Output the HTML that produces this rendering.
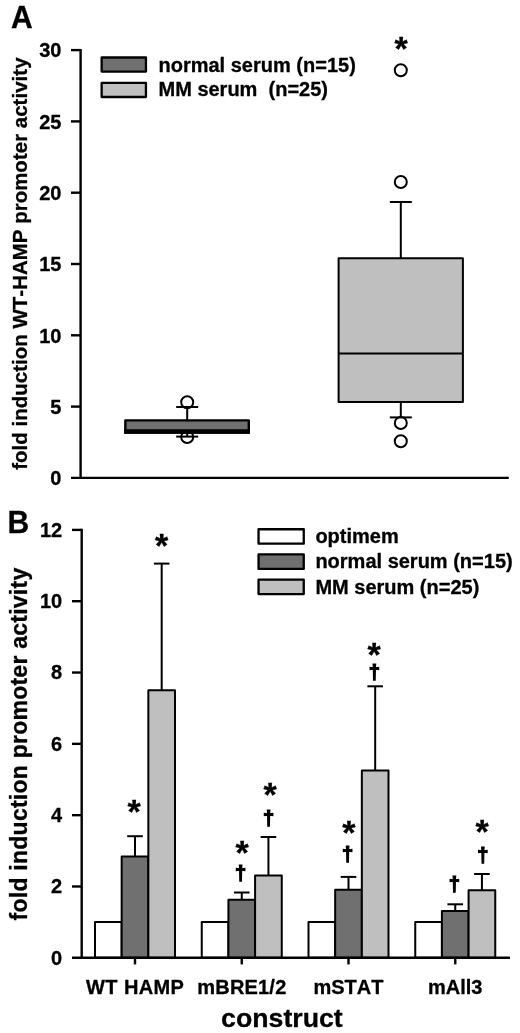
<!DOCTYPE html>
<html><head><meta charset="utf-8"><title>Figure</title>
<style>
html,body{margin:0;padding:0;background:#fff;}
svg{display:block;}
svg text{font-family:'Liberation Sans', sans-serif;font-weight:bold;fill:#000;font-kerning:none;stroke:#000;stroke-width:0.3px;}
</style></head><body>
<svg width="520" height="1033" viewBox="0 0 520 1033">
<rect x="0" y="0" width="520" height="1033" fill="#fff"/>
<text transform="translate(11.0,27.7) scale(1,1.066)" font-size="30">A</text>
<text transform="translate(27.3,469.8) rotate(-90)" font-size="20.4" textLength="412.3" lengthAdjust="spacing">fold induction WT-HAMP promoter activity</text>
<circle cx="187.20" cy="402.20" r="6" fill="#fff" stroke="#000" stroke-width="2.0"/>
<circle cx="187.20" cy="437.00" r="6" fill="#fff" stroke="#000" stroke-width="2.0"/>
<circle cx="400.80" cy="70.30" r="6" fill="#fff" stroke="#000" stroke-width="2.0"/>
<circle cx="400.80" cy="182.00" r="6" fill="#fff" stroke="#000" stroke-width="2.0"/>
<circle cx="400.80" cy="423.00" r="6" fill="#fff" stroke="#000" stroke-width="2.0"/>
<circle cx="400.80" cy="441.20" r="6" fill="#fff" stroke="#000" stroke-width="2.0"/>
<line x1="187.20" y1="420.00" x2="187.20" y2="407.00" stroke="#000" stroke-width="2.0" stroke-linecap="butt"/>
<line x1="176.20" y1="407.00" x2="198.20" y2="407.00" stroke="#000" stroke-width="2.0" stroke-linecap="butt"/>
<line x1="187.20" y1="433.00" x2="187.20" y2="436.60" stroke="#000" stroke-width="2.0" stroke-linecap="butt"/>
<line x1="176.20" y1="436.60" x2="198.20" y2="436.60" stroke="#000" stroke-width="2.0" stroke-linecap="butt"/>
<line x1="400.80" y1="258.20" x2="400.80" y2="202.00" stroke="#000" stroke-width="2.0" stroke-linecap="butt"/>
<line x1="389.80" y1="202.00" x2="411.80" y2="202.00" stroke="#000" stroke-width="2.0" stroke-linecap="butt"/>
<line x1="400.80" y1="402.00" x2="400.80" y2="417.40" stroke="#000" stroke-width="2.0" stroke-linecap="butt"/>
<line x1="389.80" y1="417.40" x2="411.80" y2="417.40" stroke="#000" stroke-width="2.0" stroke-linecap="butt"/>
<rect x="125.35" y="420.40" width="123.45" height="12.25" fill="#707070" stroke="#000" stroke-width="2.4" stroke-linejoin="round"/>
<line x1="124.15" y1="431.50" x2="250.00" y2="431.50" stroke="#000" stroke-width="4.6" stroke-linecap="butt"/>
<rect x="338.60" y="258.20" width="124.30" height="143.80" fill="#bfbfbf" stroke="#000" stroke-width="2.0" stroke-linejoin="round"/>
<line x1="338.60" y1="353.50" x2="462.90" y2="353.50" stroke="#000" stroke-width="2.0" stroke-linecap="butt"/>
<line x1="80.60" y1="48.90" x2="80.60" y2="479.10" stroke="#000" stroke-width="2.4" stroke-linecap="butt"/>
<line x1="71.00" y1="477.90" x2="508.80" y2="477.90" stroke="#000" stroke-width="2.4" stroke-linecap="butt"/>
<text transform="translate(61.4,485.20) scale(1,1.04)" font-size="20" text-anchor="end">0</text>
<line x1="71.00" y1="406.60" x2="80.60" y2="406.60" stroke="#000" stroke-width="2.4" stroke-linecap="butt"/>
<text transform="translate(61.4,413.90) scale(1,1.04)" font-size="20" text-anchor="end">5</text>
<line x1="71.00" y1="335.30" x2="80.60" y2="335.30" stroke="#000" stroke-width="2.4" stroke-linecap="butt"/>
<text transform="translate(61.4,342.60) scale(1,1.04)" font-size="20" text-anchor="end">10</text>
<line x1="71.00" y1="264.00" x2="80.60" y2="264.00" stroke="#000" stroke-width="2.4" stroke-linecap="butt"/>
<text transform="translate(61.4,271.30) scale(1,1.04)" font-size="20" text-anchor="end">15</text>
<line x1="71.00" y1="192.70" x2="80.60" y2="192.70" stroke="#000" stroke-width="2.4" stroke-linecap="butt"/>
<text transform="translate(61.4,200.00) scale(1,1.04)" font-size="20" text-anchor="end">20</text>
<line x1="71.00" y1="121.40" x2="80.60" y2="121.40" stroke="#000" stroke-width="2.4" stroke-linecap="butt"/>
<text transform="translate(61.4,128.70) scale(1,1.04)" font-size="20" text-anchor="end">25</text>
<line x1="71.00" y1="50.10" x2="80.60" y2="50.10" stroke="#000" stroke-width="2.4" stroke-linecap="butt"/>
<text transform="translate(61.4,57.40) scale(1,1.04)" font-size="20" text-anchor="end">30</text>
<rect x="101.65" y="57.50" width="44.30" height="14.10" fill="#707070" stroke="#000" stroke-width="2.3" stroke-linejoin="round"/>
<rect x="101.65" y="82.90" width="44.30" height="14.10" fill="#bfbfbf" stroke="#000" stroke-width="2.3" stroke-linejoin="round"/>
<text x="158.50" y="71.80" font-size="20" text-anchor="start" >normal serum (n=15)</text>
<text x="158.50" y="96.20" font-size="20" text-anchor="start" >MM serum&#160; (n=25)</text>
<text x="401.10" y="60.17" font-size="34" text-anchor="middle" >*</text>
<text transform="translate(7.5,533.1) scale(1,1.066)" font-size="30">B</text>
<text transform="translate(27.4,920.4) rotate(-90)" font-size="23" textLength="352.6" lengthAdjust="spacing">fold induction promoter activity</text>
<line x1="135.00" y1="856.40" x2="135.00" y2="836.20" stroke="#000" stroke-width="2.0" stroke-linecap="butt"/>
<line x1="127.20" y1="836.20" x2="142.81" y2="836.20" stroke="#000" stroke-width="2.0" stroke-linecap="butt"/>
<line x1="161.68" y1="690.20" x2="161.68" y2="563.60" stroke="#000" stroke-width="2.0" stroke-linecap="butt"/>
<line x1="153.88" y1="563.60" x2="169.48" y2="563.60" stroke="#000" stroke-width="2.0" stroke-linecap="butt"/>
<rect x="95.00" y="921.90" width="26.67" height="35.90" fill="#ffffff" stroke="#000" stroke-width="2.0" stroke-linejoin="round"/>
<rect x="121.67" y="856.40" width="26.67" height="101.40" fill="#707070" stroke="#000" stroke-width="2.0" stroke-linejoin="round"/>
<rect x="148.34" y="690.20" width="26.67" height="267.60" fill="#bfbfbf" stroke="#000" stroke-width="2.0" stroke-linejoin="round"/>
<line x1="135.00" y1="957.80" x2="135.00" y2="964.40" stroke="#000" stroke-width="2.4" stroke-linecap="butt"/>
<line x1="241.75" y1="899.80" x2="241.75" y2="892.50" stroke="#000" stroke-width="2.0" stroke-linecap="butt"/>
<line x1="233.95" y1="892.50" x2="249.56" y2="892.50" stroke="#000" stroke-width="2.0" stroke-linecap="butt"/>
<line x1="268.43" y1="875.40" x2="268.43" y2="837.00" stroke="#000" stroke-width="2.0" stroke-linecap="butt"/>
<line x1="260.62" y1="837.00" x2="276.23" y2="837.00" stroke="#000" stroke-width="2.0" stroke-linecap="butt"/>
<rect x="201.75" y="921.90" width="26.67" height="35.90" fill="#ffffff" stroke="#000" stroke-width="2.0" stroke-linejoin="round"/>
<rect x="228.42" y="899.80" width="26.67" height="58.00" fill="#707070" stroke="#000" stroke-width="2.0" stroke-linejoin="round"/>
<rect x="255.09" y="875.40" width="26.67" height="82.40" fill="#bfbfbf" stroke="#000" stroke-width="2.0" stroke-linejoin="round"/>
<line x1="241.75" y1="957.80" x2="241.75" y2="964.40" stroke="#000" stroke-width="2.4" stroke-linecap="butt"/>
<line x1="348.50" y1="889.80" x2="348.50" y2="876.90" stroke="#000" stroke-width="2.0" stroke-linecap="butt"/>
<line x1="340.70" y1="876.90" x2="356.31" y2="876.90" stroke="#000" stroke-width="2.0" stroke-linecap="butt"/>
<line x1="375.18" y1="770.40" x2="375.18" y2="686.30" stroke="#000" stroke-width="2.0" stroke-linecap="butt"/>
<line x1="367.38" y1="686.30" x2="382.98" y2="686.30" stroke="#000" stroke-width="2.0" stroke-linecap="butt"/>
<rect x="308.50" y="921.90" width="26.67" height="35.90" fill="#ffffff" stroke="#000" stroke-width="2.0" stroke-linejoin="round"/>
<rect x="335.17" y="889.80" width="26.67" height="68.00" fill="#707070" stroke="#000" stroke-width="2.0" stroke-linejoin="round"/>
<rect x="361.84" y="770.40" width="26.67" height="187.40" fill="#bfbfbf" stroke="#000" stroke-width="2.0" stroke-linejoin="round"/>
<line x1="348.50" y1="957.80" x2="348.50" y2="964.40" stroke="#000" stroke-width="2.4" stroke-linecap="butt"/>
<line x1="455.25" y1="911.10" x2="455.25" y2="904.30" stroke="#000" stroke-width="2.0" stroke-linecap="butt"/>
<line x1="447.45" y1="904.30" x2="463.06" y2="904.30" stroke="#000" stroke-width="2.0" stroke-linecap="butt"/>
<line x1="481.93" y1="890.30" x2="481.93" y2="874.00" stroke="#000" stroke-width="2.0" stroke-linecap="butt"/>
<line x1="474.12" y1="874.00" x2="489.73" y2="874.00" stroke="#000" stroke-width="2.0" stroke-linecap="butt"/>
<rect x="415.25" y="921.90" width="26.67" height="35.90" fill="#ffffff" stroke="#000" stroke-width="2.0" stroke-linejoin="round"/>
<rect x="441.92" y="911.10" width="26.67" height="46.70" fill="#707070" stroke="#000" stroke-width="2.0" stroke-linejoin="round"/>
<rect x="468.59" y="890.30" width="26.67" height="67.50" fill="#bfbfbf" stroke="#000" stroke-width="2.0" stroke-linejoin="round"/>
<line x1="455.25" y1="957.80" x2="455.25" y2="964.40" stroke="#000" stroke-width="2.4" stroke-linecap="butt"/>
<text x="135.00" y="994.30" font-size="20" text-anchor="middle" textLength="97.8" lengthAdjust="spacing">WT HAMP</text>
<text x="241.75" y="994.30" font-size="20" text-anchor="middle" textLength="89.0" lengthAdjust="spacing">mBRE1/2</text>
<text x="348.50" y="994.30" font-size="20" text-anchor="middle" >mSTAT</text>
<text x="455.25" y="994.30" font-size="20" text-anchor="middle" >mAll3</text>
<text x="281.90" y="1027.30" font-size="26.7" text-anchor="middle" >construct</text>
<line x1="81.70" y1="528.70" x2="81.70" y2="959.00" stroke="#000" stroke-width="2.4" stroke-linecap="butt"/>
<line x1="72.00" y1="957.80" x2="510.00" y2="957.80" stroke="#000" stroke-width="2.4" stroke-linecap="butt"/>
<text transform="translate(62.2,964.60) scale(1,1.04)" font-size="20" text-anchor="end">0</text>
<line x1="72.00" y1="886.48" x2="81.70" y2="886.48" stroke="#000" stroke-width="2.4" stroke-linecap="butt"/>
<text transform="translate(62.2,893.28) scale(1,1.04)" font-size="20" text-anchor="end">2</text>
<line x1="72.00" y1="815.17" x2="81.70" y2="815.17" stroke="#000" stroke-width="2.4" stroke-linecap="butt"/>
<text transform="translate(62.2,821.97) scale(1,1.04)" font-size="20" text-anchor="end">4</text>
<line x1="72.00" y1="743.85" x2="81.70" y2="743.85" stroke="#000" stroke-width="2.4" stroke-linecap="butt"/>
<text transform="translate(62.2,750.65) scale(1,1.04)" font-size="20" text-anchor="end">6</text>
<line x1="72.00" y1="672.53" x2="81.70" y2="672.53" stroke="#000" stroke-width="2.4" stroke-linecap="butt"/>
<text transform="translate(62.2,679.33) scale(1,1.04)" font-size="20" text-anchor="end">8</text>
<line x1="72.00" y1="601.22" x2="81.70" y2="601.22" stroke="#000" stroke-width="2.4" stroke-linecap="butt"/>
<text transform="translate(62.2,608.02) scale(1,1.04)" font-size="20" text-anchor="end">10</text>
<line x1="72.00" y1="529.90" x2="81.70" y2="529.90" stroke="#000" stroke-width="2.4" stroke-linecap="butt"/>
<text transform="translate(62.2,536.70) scale(1,1.04)" font-size="20" text-anchor="end">12</text>
<rect x="258.55" y="529.25" width="45.20" height="14.45" fill="#ffffff" stroke="#000" stroke-width="2.3" stroke-linejoin="round"/>
<text x="315.40" y="542.80" font-size="20" text-anchor="start" >optimem</text>
<rect x="258.55" y="554.45" width="45.20" height="14.45" fill="#707070" stroke="#000" stroke-width="2.3" stroke-linejoin="round"/>
<text x="315.40" y="568.30" font-size="20" text-anchor="start" >normal serum (n=15)</text>
<rect x="258.55" y="579.65" width="45.20" height="14.45" fill="#bfbfbf" stroke="#000" stroke-width="2.3" stroke-linejoin="round"/>
<text x="315.40" y="593.80" font-size="20" text-anchor="start" >MM serum (n=25)</text>
<text x="161.50" y="556.82" font-size="34" text-anchor="middle" >*</text>
<text x="134.10" y="823.32" font-size="34" text-anchor="middle" >*</text>
<text x="242.10" y="863.52" font-size="34" text-anchor="middle" >*</text>
<text x="240.60" y="880.07" font-size="20.2" text-anchor="middle" style="stroke-width:1.2px;stroke-linejoin:miter">†</text>
<text x="270.00" y="806.42" font-size="34" text-anchor="middle" >*</text>
<text x="268.50" y="825.07" font-size="20.2" text-anchor="middle" style="stroke-width:1.2px;stroke-linejoin:miter">†</text>
<text x="348.90" y="844.42" font-size="34" text-anchor="middle" >*</text>
<text x="347.60" y="860.87" font-size="20.2" text-anchor="middle" style="stroke-width:1.2px;stroke-linejoin:miter">†</text>
<text x="374.20" y="665.72" font-size="34" text-anchor="middle" >*</text>
<text x="374.40" y="679.47" font-size="20.2" text-anchor="middle" style="stroke-width:1.2px;stroke-linejoin:miter">†</text>
<text x="454.30" y="890.67" font-size="20.2" text-anchor="middle" style="stroke-width:1.2px;stroke-linejoin:miter">†</text>
<text x="482.20" y="843.02" font-size="34" text-anchor="middle" >*</text>
<text x="482.90" y="861.57" font-size="20.2" text-anchor="middle" style="stroke-width:1.2px;stroke-linejoin:miter">†</text>
</svg>
</body></html>
